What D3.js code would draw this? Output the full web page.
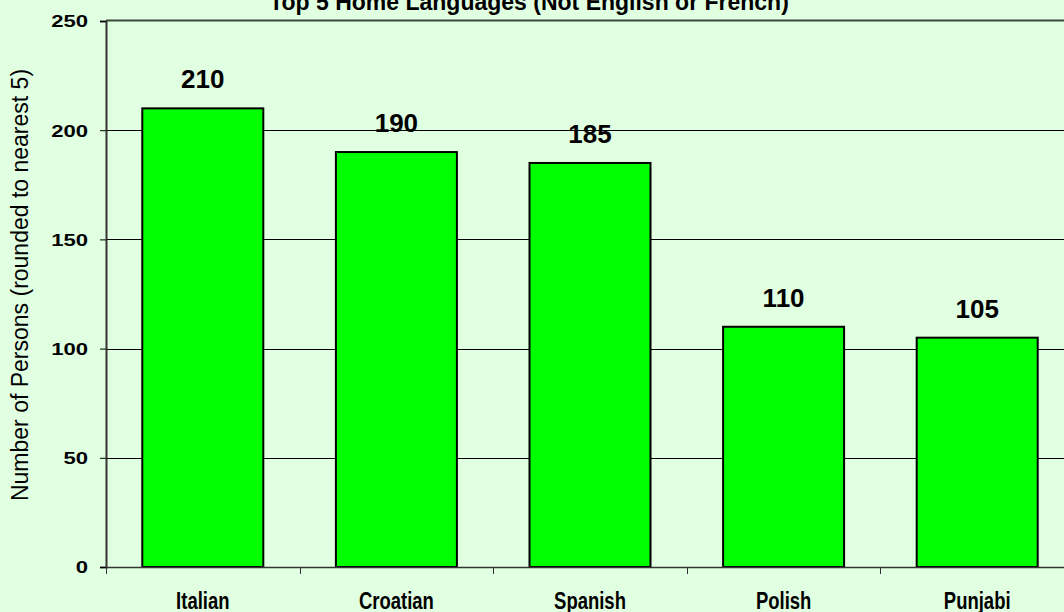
<!DOCTYPE html>
<html>
<head>
<meta charset="utf-8">
<script src="https://cdn.jsdelivr.net/npm/d3@7"></script>
<style>
  html, body { margin: 0; padding: 0; background: #E1FFE1; overflow: hidden; }
  svg { display: block; }
  text { font-family: "Liberation Sans", Arial, sans-serif; fill: #000; }
</style>
</head>
<body>
<svg id="chart" width="1064" height="612"></svg>
<script>
const categories = ["Italian", "Croatian", "Spanish", "Polish", "Punjabi"];
const values = [210, 190, 185, 110, 105];
const yTicks = [0, 50, 100, 150, 200, 250];
const chartTitle = "Top 5 Home Languages (Not English or French)";
const yTitle = "Number of Persons (rounded to nearest 5)";

const W = 1064, H = 612;
const mLeft = 106, mTop = 21, mBottom = 567, mRight = 1074;

const svg = d3.select("#chart");

const x = d3.scaleBand().domain(categories).range([mLeft, mRight]).paddingInner(0).paddingOuter(0);
const y = d3.scaleLinear().domain([0, 250]).range([mBottom, mTop]);

// gridlines
svg.append("g").selectAll("line").data(yTicks.filter(d => d > 0 && d < 250)).join("line")
  .attr("x1", mLeft).attr("x2", W)
  .attr("y1", d => Math.round(y(d)) + 0.5).attr("y2", d => Math.round(y(d)) + 0.5)
  .attr("stroke", "#000").attr("stroke-width", 1);

// top border
svg.append("line").attr("x1", mLeft).attr("x2", W).attr("y1", y(250) - 0.5).attr("y2", y(250) - 0.5)
  .attr("stroke", "#3a4a3a").attr("stroke-width", 2);

// bars
const bw = x.bandwidth() * 0.625;
svg.append("g").selectAll("rect").data(values).join("rect")
  .attr("x", (d, i) => x(categories[i]) + (x.bandwidth() - bw) / 2)
  .attr("y", d => y(d))
  .attr("width", bw)
  .attr("height", d => y(0) - y(d))
  .attr("fill", "#00FF00")
  .attr("stroke", "#000")
  .attr("stroke-width", 2);

// y axis
const yAxis = d3.axisLeft(y).tickValues(yTicks).tickSize(6).tickPadding(0).tickFormat(d3.format("d"));
const gy = svg.append("g").attr("transform", `translate(${mLeft},0)`).call(yAxis);
gy.select(".domain").attr("stroke", "#333").attr("stroke-width", 2);
gy.selectAll(".tick line").attr("stroke", "#000");
gy.selectAll(".tick text").remove();
gy.selectAll(".tick").append("text")
  .attr("text-anchor", "end")
  .attr("dy", "0.35em")
  .attr("transform", "translate(-18,0) scale(1.3,1)")
  .style("font-size", "17px").style("font-weight", "bold")
  .text(d => d);

// x axis
const xAxis = d3.axisBottom(x).tickSize(0).tickFormat("");
const gx = svg.append("g").attr("transform", `translate(0,${mBottom})`).call(xAxis);
gx.select(".domain").attr("stroke", "#333").attr("stroke-width", 1.5);
gx.selectAll(".tick").remove();
const bounds = categories.map(c => x(c));
gx.selectAll("line.bt").data(bounds).join("line").attr("class", "bt")
  .attr("x1", d => Math.round(d) + 0.5).attr("x2", d => Math.round(d) + 0.5)
  .attr("y1", 0).attr("y2", 7).attr("stroke", "#333").attr("stroke-width", 1);
gx.selectAll("text.cl").data(categories).join("text").attr("class", "cl")
  .attr("text-anchor", "middle")
  .attr("transform", d => `translate(${x(d) + x.bandwidth() / 2},42) scale(0.77,1)`)
  .style("font-size", "24px").style("font-weight", "bold")
  .text(d => d);

// value labels
svg.append("g").selectAll("text").data(values).join("text")
  .attr("x", (d, i) => x(categories[i]) + x.bandwidth() / 2)
  .attr("y", d => y(d) - 20)
  .attr("text-anchor", "middle")
  .style("font-size", "26px").style("font-weight", "bold")
  .text(d => d);

// title
svg.append("text").attr("x", 529).attr("y", 10).attr("text-anchor", "middle")
  .style("font-size", "23px").style("font-weight", "bold").text(chartTitle);

// y title
svg.append("text").attr("transform", "translate(28,285) rotate(-90)")
  .attr("text-anchor", "middle")
  .style("font-size", "23px").text(yTitle);
</script>
</body>
</html>
